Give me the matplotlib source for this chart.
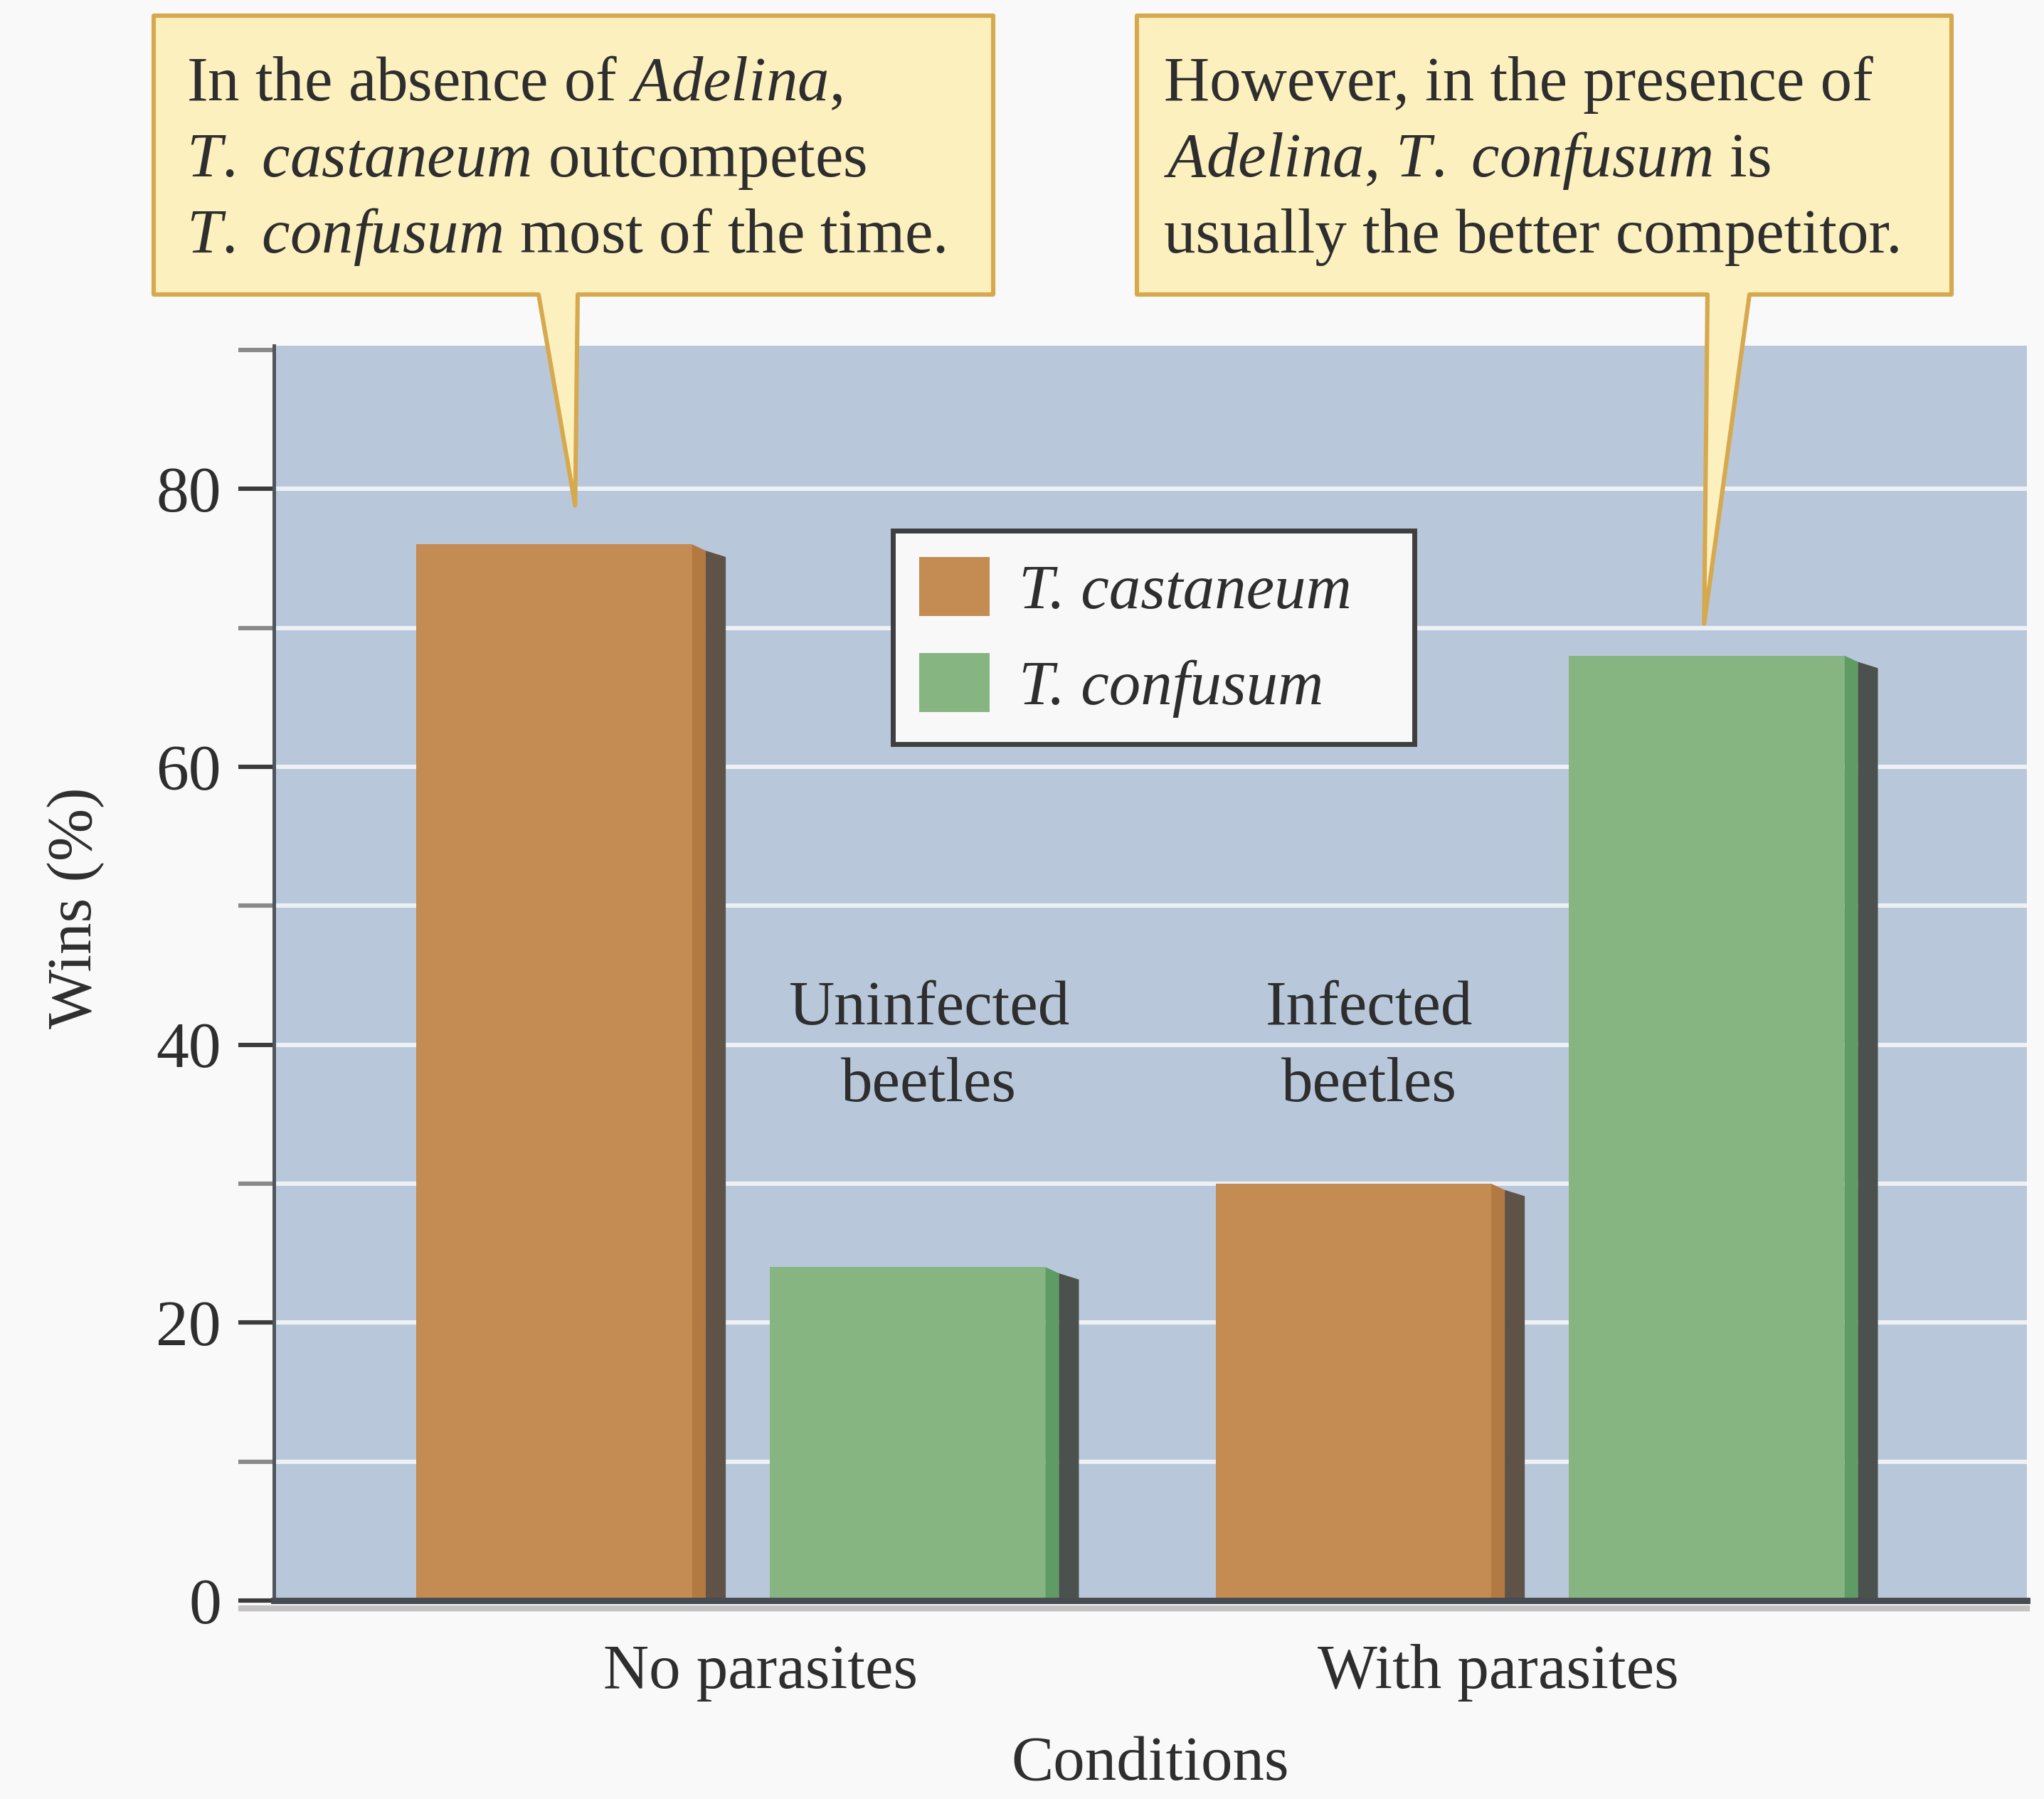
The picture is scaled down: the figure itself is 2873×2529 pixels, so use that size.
import numpy as np
import matplotlib.pyplot as plt
from matplotlib.patches import Patch, Polygon
from matplotlib.lines import Line2D
from matplotlib.font_manager import FontProperties
from matplotlib import transforms as mtransforms

plt.rcParams["font.family"] = ["Liberation Serif", "DejaVu Serif"]
plt.rcParams["mathtext.fontset"] = "custom"
plt.rcParams["mathtext.rm"] = "Liberation Serif"
plt.rcParams["mathtext.it"] = "Liberation Serif:italic"

# data
CONDITIONS = ["No parasites", "With parasites"]
SPECIES = ["T. castaneum", "T. confusum"]
WINS_CASTANEUM = [76, 30]
WINS_CONFUSUM = [24, 68]
GROUP_NOTES = ["Uninfected\nbeetles", "Infected\nbeetles"]
Y_MAJOR = [0, 20, 40, 60, 80]
Y_MINOR = [10, 30, 50, 70, 90]

CALLOUT_1 = [
    r"In the absence of $\mathit{Adelina}$,",
    r"$\mathit{T.\ castaneum}$ outcompetes",
    r"$\mathit{T.\ confusum}$ most of the time.",
]
CALLOUT_2 = [
    r"However, in the presence of",
    r"$\mathit{Adelina}$, $\mathit{T.\ confusum}$ is",
    r"usually the better competitor.",
]

# style
ORANGE = "#c48b52"
GREEN = "#86b582"
SIDE_A = {ORANGE: "#b27a42", GREEN: "#5f9c63"}
SIDE_B = {ORANGE: "#5f5348", GREEN: "#4b524d"}
PLOT_BG = "#b8c8da"
FIG_BG = "#f9f9f9"
TEXT = "#2e2e2e"
BOX_FACE = "#fdf0bf"
BOX_EDGE = "#d6a94f"
FS = 32

W, H, DPI = 2873, 2529, 200
BAR_W = 0.345
OFFSET = 0.221


def fx(px):
    return px / W


def fy(py):
    return 1 - py / H


def draw_side(ax, x, v, color):
    # fake 3d side strip on the right of each bar
    r = x + BAR_W / 2
    wa, wb = 0.017, 0.025
    ax.add_patch(Polygon([(r, 0), (r, v), (r + wa, v - 0.45), (r + wa, 0)],
                         closed=True, facecolor=SIDE_A[color], edgecolor="none", zorder=3))
    ax.add_patch(Polygon([(r + wa, 0), (r + wa, v - 0.45), (r + wa + wb, v - 0.9), (r + wa + wb, 0)],
                         closed=True, facecolor=SIDE_B[color], edgecolor="none", zorder=3))


def callout(fig, ax, box, base, tip, lines, text_x):
    x0, y0, x1, y1 = box
    tip_fig = fig.transFigure.inverted().transform(ax.transData.transform(tip))
    verts = [
        (fx(x0), fy(y0)), (fx(x1), fy(y0)), (fx(x1), fy(y1)),
        (fx(base[1]), fy(y1)), tuple(tip_fig), (fx(base[0]), fy(y1)),
        (fx(x0), fy(y1)),
    ]
    poly = Polygon(verts, closed=True, transform=fig.transFigure, facecolor=BOX_FACE,
                   edgecolor=BOX_EDGE, linewidth=2.2, joinstyle="round", zorder=5)
    fig.add_artist(poly)
    for line, by in zip(lines, [141, 248, 355]):
        fig.text(fx(text_x), fy(by), line, fontsize=FS, color=TEXT, ha="left",
                 va="baseline", zorder=6)


def main() -> None:
    fig = plt.figure(figsize=(W / DPI, H / DPI), dpi=DPI, facecolor=FIG_BG)
    ax = fig.add_axes([fx(385), fy(2250), fx(2849 - 385), (2250 - 486) / H])
    ax.set_facecolor(PLOT_BG)
    ax.set_xlim(-0.572, 1.622)
    ax.set_ylim(0, 90.3)

    groups = np.arange(len(CONDITIONS))
    x_cast = groups - OFFSET
    x_conf = groups + OFFSET
    ax.bar(x_cast, WINS_CASTANEUM, width=BAR_W, color=ORANGE, zorder=3)
    ax.bar(x_conf, WINS_CONFUSUM, width=BAR_W, color=GREEN, zorder=3)
    for x, v in zip(x_cast, WINS_CASTANEUM):
        draw_side(ax, x, v, ORANGE)
    for x, v in zip(x_conf, WINS_CONFUSUM):
        draw_side(ax, x, v, GREEN)

    grid_vals = [v for v in sorted(Y_MAJOR + Y_MINOR) if 0 < v < 90]
    ax.hlines(grid_vals, *ax.get_xlim(), colors="#edf1f6", linewidth=2.2, zorder=1)

    ax.set_yticks(Y_MAJOR)
    ax.set_yticks(Y_MINOR, minor=True)
    ax.tick_params(axis="y", which="both", length=18, width=2.2, direction="out",
                   pad=8.6, labelsize=33, labelcolor=TEXT)
    ax.tick_params(axis="y", which="major", color="#3c3c3c")
    ax.tick_params(axis="y", which="minor", color="#8a8a8a")
    ax.set_xticks([0.037, 0.96], CONDITIONS)
    ax.tick_params(axis="x", length=0, pad=22, labelsize=FS, labelcolor=TEXT)

    for s in ["top", "right"]:
        ax.spines[s].set_visible(False)
    ax.spines["left"].set_color("#50565c")
    ax.spines["left"].set_linewidth(1.8)
    ax.spines["bottom"].set_color("#474c52")
    ax.spines["bottom"].set_linewidth(3.2)
    ax.spines["bottom"].set_zorder(4)
    shadow_tr = mtransforms.offset_copy(ax.transAxes, fig=fig, y=-4, units="points")
    ax.add_line(Line2D([-0.0187, 1], [0, 0], transform=shadow_tr, color="#c4c2c2",
                       linewidth=3, clip_on=False, zorder=2))

    ax.set_ylabel("Wins (%)", fontsize=FS, color=TEXT)
    ax.yaxis.set_label_coords(-0.0966, 0.552)
    ax.set_xlabel("Conditions", fontsize=FS, labelpad=17, color=TEXT)

    for note, nx in zip(GROUP_NOTES, [0.248, 0.799]):
        ax.text(nx, 39.8, note, ha="center", va="center", fontsize=FS, color=TEXT,
                linespacing=1.42, zorder=2)

    leg = ax.legend([Patch(facecolor=ORANGE), Patch(facecolor=GREEN)], SPECIES,
                    loc="upper left", bbox_to_anchor=(0.353, 0.6837, 0.2976, 0.1689),
                    mode="expand", borderaxespad=0, frameon=True, fancybox=False,
                    framealpha=1, facecolor="#f8f8f8", edgecolor="#3f3f3f",
                    handlelength=1.11, handleheight=1.05, handletextpad=0.46,
                    labelspacing=0.5, borderpad=0.42,
                    prop=FontProperties(family="Liberation Serif", style="italic", size=FS))
    leg.get_frame().set_linewidth(2.5)
    for t in leg.get_texts():
        t.set_color(TEXT)
    leg.set_zorder(6)

    callout(fig, ax, (216, 22, 1396, 414), (757, 812),
            (x_cast[0] + 0.026, WINS_CASTANEUM[0] + 2.8), CALLOUT_1, 262)
    callout(fig, ax, (1598, 22, 2743, 414), (2400, 2459),
            (x_conf[1] - 0.003, WINS_CONFUSUM[1] + 2.3), CALLOUT_2, 1636)

    fig.savefig("out.png", dpi=DPI, facecolor=FIG_BG)
    plt.close(fig)


if __name__ == "__main__":
    main()
